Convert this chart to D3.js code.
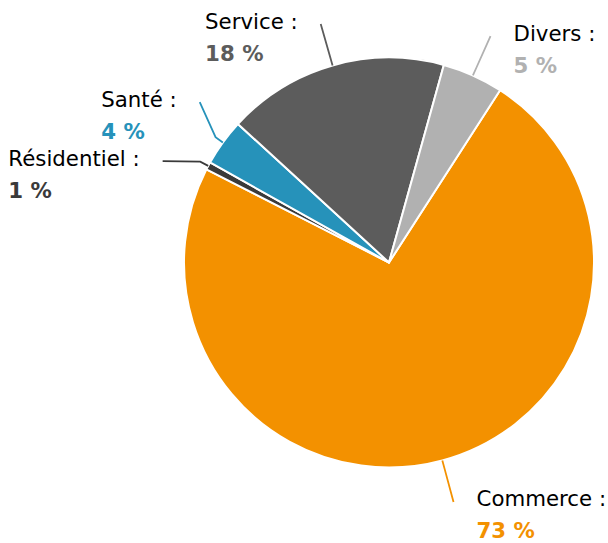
<!DOCTYPE html>
<html>
<head>
<meta charset="utf-8">
<script src="https://cdn.jsdelivr.net/npm/d3@7"></script>
<style>
  html, body { margin: 0; padding: 0; background: #fff; }
  svg { display: block; }
  text { font-family: "DejaVu Sans", sans-serif; }
</style>
</head>
<body>
<div id="chart"></div>
<script>
// ---- data ----
const categories = ["Commerce", "Résidentiel", "Santé", "Service", "Divers"];
const values = [73.4, 0.6, 3.7, 17.5, 4.8];
const percentLabels = ["73 %", "1 %", "4 %", "18 %", "5 %"];
const colors = ["#f39100", "#3a3a3a", "#2692ba", "#5c5c5c", "#b1b1b1"];
// label connector angle shift (degrees) to avoid overlap
const labelAngleShift = [0, -4, 4.4, 0, 0];

// ---- layout ----
const W = 608, H = 543;
const cx = 389, cy = 262.5, R = 205;
const startDeg = 32.8;
const fontSize = 21.3, lineGap = 32;

const svg = d3.select("#chart").append("svg")
  .attr("width", W).attr("height", H);

const g = svg.append("g").attr("transform", `translate(${cx},${cy})`);

const rad = d => d * Math.PI / 180;
const pie = d3.pie().sort(null).value(d => d.value)
  .startAngle(rad(startDeg)).endAngle(rad(startDeg) + 2 * Math.PI);

const data = categories.map((c, i) => ({
  name: c, value: values[i], pct: percentLabels[i], color: colors[i], shift: labelAngleShift[i]
}));
const arcs = pie(data);

const arc = d3.arc().innerRadius(0).outerRadius(R);

g.selectAll("path.slice").data(arcs).enter().append("path")
  .attr("class", "slice")
  .attr("d", arc)
  .attr("fill", d => d.data.color)
  .attr("stroke", "#fff")
  .attr("stroke-width", 2)
  .attr("stroke-linejoin", "round");

const polar = (a, r) => [r * Math.sin(a), -r * Math.cos(a)];

arcs.forEach(d => {
  const mid = (d.startAngle + d.endAngle) / 2;
  const p0 = polar(mid, R);
  const p1 = polar(mid, R + 9);
  const endA = mid + rad(d.data.shift);
  const p2 = polar(endA, R + 43);
  g.append("path")
    .attr("d", d3.line()([p0, p1, p2]))
    .attr("fill", "none")
    .attr("stroke", d.data.color)
    .attr("stroke-width", 1.8);

  const rightSide = (endA % (2 * Math.PI)) < Math.PI;
  const baseY = p2[1] + 4.5;
  const grp = g.append("g");
  const t1 = grp.append("text")
    .attr("y", baseY)
    .attr("font-size", fontSize)
    .attr("fill", "#000")
    .text(d.data.name + " :");
  const t2 = grp.append("text")
    .attr("y", baseY + lineGap)
    .attr("font-size", fontSize)
    .attr("font-weight", "bold")
    .attr("fill", d.data.color)
    .text(d.data.pct);
  let x;
  if (rightSide) {
    x = p2[0] + 23;
  } else {
    const w = t1.node().getComputedTextLength();
    x = p2[0] - 23 - w;
  }
  t1.attr("x", x);
  t2.attr("x", x);
});
</script>
</body>
</html>
